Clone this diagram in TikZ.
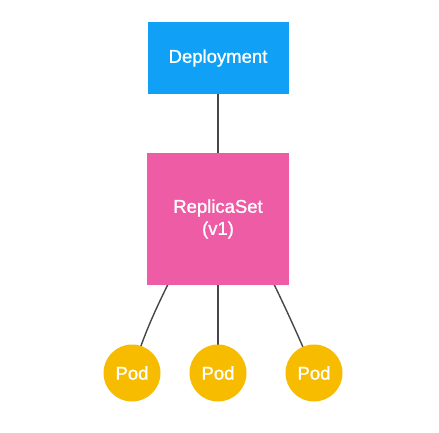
\documentclass[tikz,border=0pt]{standalone}
\usepackage{fontspec}
\setmainfont{Liberation Sans}
\newfontfamily\labelfont[FakeBold=1.2]{Liberation Sans}
\definecolor{deployblue}{RGB}{16,160,246}
\definecolor{rspink}{RGB}{237,92,165}
\definecolor{podgold}{RGB}{247,188,0}
\definecolor{linkgray}{RGB}{70,70,70}
\begin{document}
\begin{tikzpicture}[x=1pt,y=-1pt,
  lbltext/.style={text=white,font=\labelfont\fontsize{18.5}{22}\selectfont,align=center},
  boxnode/.style={rectangle,inner sep=0pt,lbltext},
  podnode/.style={circle,fill=podgold,minimum size=57pt,inner sep=0pt,lbltext},
  link/.style={draw=linkgray,line width=1.4pt}]
  \useasboundingbox (0,0) rectangle (439,432);
  \fill[white] (0,0) rectangle (439,432);
  % connectors, drawn first so the shapes cover their ends
  \coordinate (rsl) at (170,280);
  \coordinate (rsr) at (272,280);
  \coordinate (depb) at (218,90);
  \coordinate (rst) at (218,160);
  \coordinate (rsb) at (218,280);
  \coordinate (p1) at (132,373);
  \coordinate (p2) at (218,373);
  \coordinate (p3) at (314,373);
  \draw[link] (depb) -- (rst);
  \draw[link] (rsl) .. controls (158,305) and (145,330) .. (p1);
  \draw[link] (rsb) -- (p2);
  \draw[link] (rsr) .. controls (284,305) and (296,330) .. (p3);
  % Deployment at the top
  \node[boxnode,fill=deployblue,minimum width=141pt,minimum height=72pt] (dep) at (218,58) {Deployment};
  % ReplicaSet in the middle
  \node[boxnode,fill=rspink,minimum width=142pt,minimum height=132pt] (rs) at (218,219) {ReplicaSet\\[0pt](v1)};
  % Pods
  \node[podnode] (pod1) at (p1) {Pod};
  \node[podnode] (pod2) at (p2) {Pod};
  \node[podnode] (pod3) at (p3) {Pod};
\end{tikzpicture}
\end{document}
